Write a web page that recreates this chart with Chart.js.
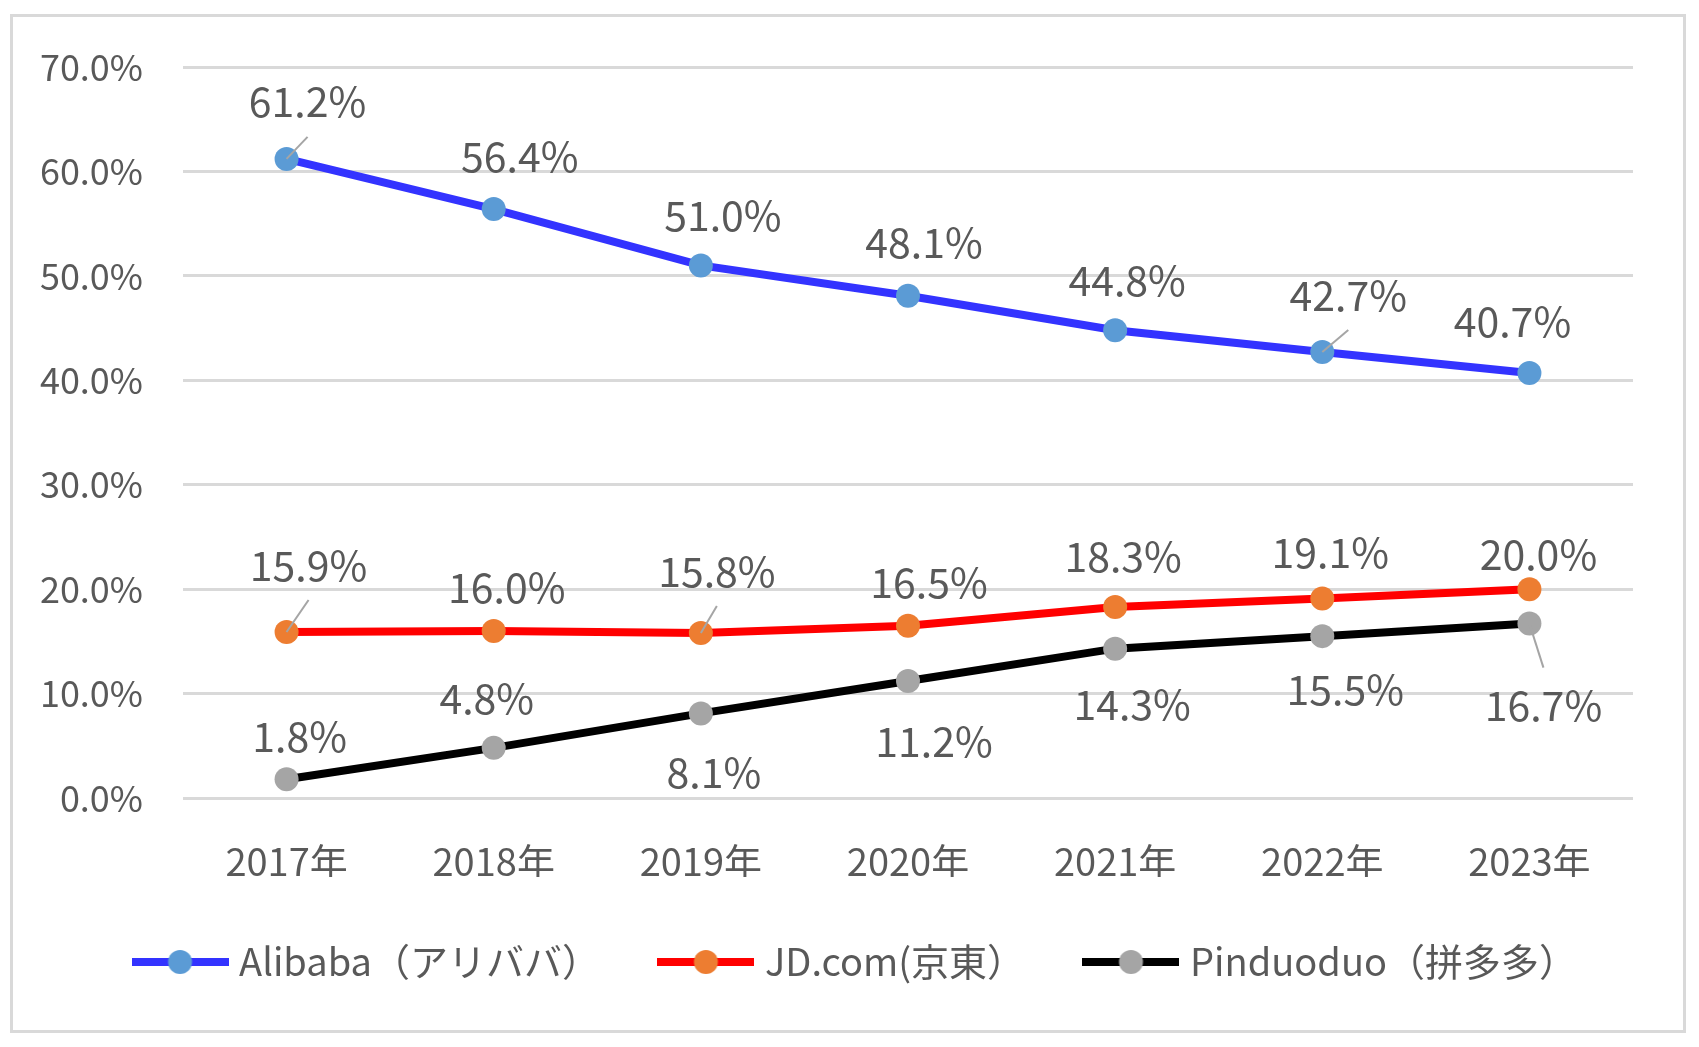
<!DOCTYPE html>
<html>
<head>
<meta charset="utf-8">
<script src="https://cdn.jsdelivr.net/npm/chart.js@4.4.1/dist/chart.umd.min.js"></script>
<style>
  html, body { margin: 0; padding: 0; background: #fff; }
</style>
</head>
<body>
<canvas id="shareChart" width="1699" height="1047"></canvas>
<script>
// data (market share, %)
const years = ['2017年', '2018年', '2019年', '2020年', '2021年', '2022年', '2023年'];
const alibaba = [61.2, 56.4, 51.0, 48.1, 44.8, 42.7, 40.7];
const jd = [15.9, 16.0, 15.8, 16.5, 18.3, 19.1, 20.0];
const pinduoduo = [1.8, 4.8, 8.1, 11.2, 14.3, 15.5, 16.7];
const seriesNames = ['Alibaba（アリババ）', 'JD.com(京東）', 'Pinduoduo（拼多多）'];
const yMin = 0, yMax = 70, yStep = 10;

// where each value label sits relative to its point, and which ones get a leader line
const alibabaLabelPos = [[21, -57], [26, -53], [22, -50], [16, -53], [12, -50], [26, -57], [-17, -52]];
const jdLabelPos = [[22, -67], [13, -43], [16, -62], [21, -43], [8, -50], [8, -46], [9, -35]];
const pddLabelPos = [[13, -43], [-7, -49], [13, 59], [26, 60], [17, 56], [23, 53], [14, 82]];
const alibabaLeader = [true, false, false, false, false, true, false];
const jdLeader = [true, false, true, false, false, false, false];
const pddLeader = [false, false, false, false, false, false, true];

const FONT = '"Noto Sans CJK JP", "Noto Sans", sans-serif';
const TEXT = '#595959';

function legendIcon(lineColor, dotColor) {
  const c = document.createElement('canvas');
  c.width = 97; c.height = 26;
  const g = c.getContext('2d');
  g.strokeStyle = lineColor;
  g.lineWidth = 8;
  g.beginPath(); g.moveTo(0, 13); g.lineTo(97, 13); g.stroke();
  g.fillStyle = dotColor;
  g.beginPath(); g.arc(48.5, 13, 12, 0, Math.PI * 2); g.fill();
  return c;
}

const frame = {
  id: 'frame',
  beforeDraw(chart) {
    const ctx = chart.ctx;
    ctx.save();
    ctx.fillStyle = '#fff';
    ctx.fillRect(0, 0, chart.width, chart.height);
    ctx.strokeStyle = '#d9d9d9';
    ctx.lineWidth = 3;
    ctx.strokeRect(11.5, 15.5, 1673, 1016);
    ctx.restore();
  },
  afterLayout(chart) {
    // nudge the legend right so it sits where the original has it
    chart.legend.left += 42;
    chart.legend.right += 42;
  }
};

const valueLabels = {
  id: 'valueLabels',
  afterDatasetsDraw(chart) {
    const ctx = chart.ctx;
    ctx.save();
    ctx.font = '41px ' + FONT;
    ctx.textAlign = 'center';
    ctx.textBaseline = 'middle';
    chart.data.datasets.forEach((ds, i) => {
      const meta = chart.getDatasetMeta(i);
      meta.data.forEach((pt, j) => {
        const [dx, dy] = ds.labelPos[j];
        const lx = pt.x + dx, ly = pt.y + dy;
        if (ds.leader[j]) {
          ctx.strokeStyle = '#a5a5a5';
          ctx.lineWidth = 2;
          ctx.beginPath();
          ctx.moveTo(pt.x, pt.y);
          ctx.lineTo(lx, ly + (dy < 0 ? 35 : -38));
          ctx.stroke();
        }
        ctx.fillStyle = TEXT;
        ctx.fillText(ds.data[j].toFixed(1) + '%', lx, ly);
      });
    });
    ctx.restore();
  }
};

const icons = [legendIcon('#3333ff', '#5b9bd5'), legendIcon('#ff0000', '#ed7d31'), legendIcon('#000000', '#a5a5a5')];

new Chart(document.getElementById('shareChart').getContext('2d'), {
  type: 'line',
  data: {
    labels: years,
    datasets: [{
      label: seriesNames[0],
      data: alibaba,
      borderColor: '#3333ff',
      pointBackgroundColor: '#5b9bd5',
      labelPos: alibabaLabelPos,
      leader: alibabaLeader
    }, {
      label: seriesNames[1],
      data: jd,
      borderColor: '#ff0000',
      pointBackgroundColor: '#ed7d31',
      labelPos: jdLabelPos,
      leader: jdLeader
    }, {
      label: seriesNames[2],
      data: pinduoduo,
      borderColor: '#000000',
      pointBackgroundColor: '#a5a5a5',
      labelPos: pddLabelPos,
      leader: pddLeader
    }]
  },
  options: {
    responsive: false,
    animation: false,
    layout: {
      padding: { left: 0, right: 66, top: 67, bottom: 56 }
    },
    elements: {
      line: { borderWidth: 8, tension: 0 },
      point: { radius: 12, borderWidth: 0, hoverRadius: 12 }
    },
    plugins: {
      tooltip: { enabled: false },
      legend: {
        position: 'bottom',
        labels: {
          usePointStyle: true,
          pointStyleWidth: 80,
          padding: 66,
          color: TEXT,
          font: { family: FONT, size: 38 },
          generateLabels(chart) {
            const items = Chart.defaults.plugins.legend.labels.generateLabels(chart);
            items.forEach((it, k) => { it.pointStyle = icons[k]; });
            return items;
          }
        }
      }
    },
    scales: {
      x: {
        offset: true,
        grid: { display: false },
        border: { display: false },
        ticks: { color: TEXT, padding: 33, font: { family: FONT, size: 38 } },
        afterFit(s) { s.height = 79; }
      },
      y: {
        min: yMin,
        max: yMax,
        grid: { color: '#d9d9d9', lineWidth: 3, drawTicks: false },
        border: { display: false },
        ticks: {
          stepSize: yStep,
          padding: 40,
          color: TEXT,
          font: { family: FONT, size: 36 },
          callback: v => v.toFixed(1) + '%'
        },
        afterFit(s) { s.width = 183; }
      }
    }
  },
  plugins: [frame, valueLabels]
});
</script>
</body>
</html>
